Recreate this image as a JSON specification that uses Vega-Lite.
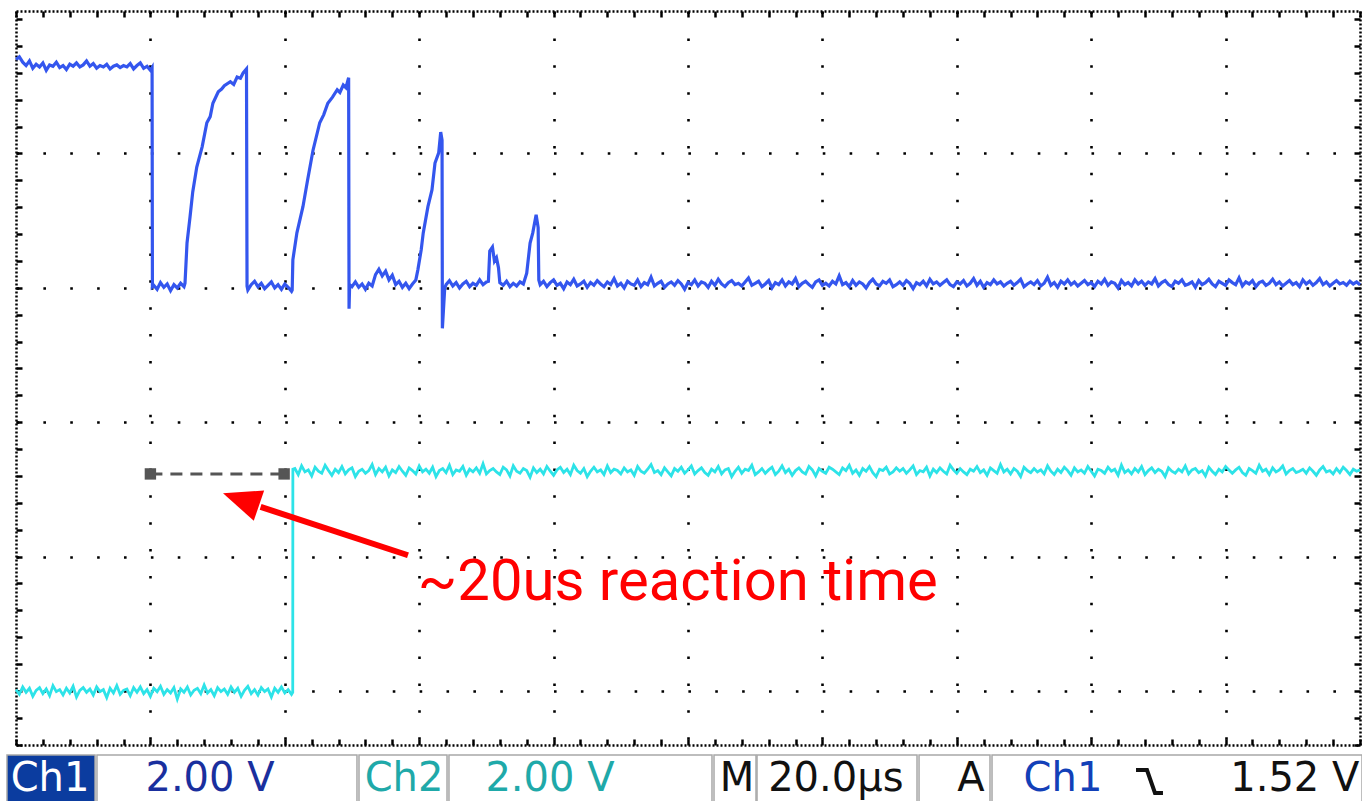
{
"$schema":"https://vega.github.io/schema/vega-lite/v6.json",
"width":1344,"height":734,
"autosize":{"type":"none"},
"padding":{"left":16,"top":11,"right":2,"bottom":56},
"background":"#ffffff",
"config":{"view":{"stroke":null}},
"resolve":{"scale":{"y":"independent"},"axis":{"x":"independent","y":"independent"}},
"datasets":{
"ch1":[
{"t":0,"v":3.40},{"t":0.5,"v":3.44},{"t":1,"v":3.36},{"t":1.5,"v":3.31},{"t":2,"v":3.38},{"t":2.5,"v":3.27},{"t":3,"v":3.33},{"t":3.5,"v":3.29},{"t":4,"v":3.35},{"t":4.5,"v":3.24},
{"t":5,"v":3.32},{"t":5.5,"v":3.30},{"t":6,"v":3.36},{"t":6.5,"v":3.28},{"t":7,"v":3.31},{"t":7.5,"v":3.25},{"t":8,"v":3.33},{"t":8.5,"v":3.30},{"t":9,"v":3.35},{"t":9.5,"v":3.29},
{"t":10,"v":3.32},{"t":10.5,"v":3.38},{"t":11,"v":3.30},{"t":11.5,"v":3.34},{"t":12,"v":3.27},{"t":12.5,"v":3.31},{"t":13,"v":3.29},{"t":13.5,"v":3.33},{"t":14,"v":3.26},{"t":14.5,"v":3.30},
{"t":15,"v":3.32},{"t":15.5,"v":3.28},{"t":16,"v":3.31},{"t":16.5,"v":3.29},{"t":17,"v":3.34},{"t":17.5,"v":3.26},{"t":18,"v":3.31},{"t":18.5,"v":3.35},{"t":19,"v":3.27},{"t":19.5,"v":3.30},
{"t":20,"v":3.24},{"t":20.25,"v":3.28},{"t":20.3,"v":0.02},
{"t":20.5,"v":0.04},{"t":21,"v":-0.02},{"t":21.5,"v":0.08},{"t":22,"v":0.01},{"t":22.5,"v":0.06},{"t":23,"v":-0.04},{"t":23.5,"v":0.05},{"t":24,"v":0.00},{"t":24.5,"v":0.07},{"t":25,"v":0.02},
{"t":25.15,"v":0.07},{"t":25.45,"v":0.67},{"t":25.9,"v":1.06},{"t":26.3,"v":1.43},{"t":26.9,"v":1.80},{"t":27.7,"v":2.10},{"t":28.4,"v":2.46},{"t":28.9,"v":2.55},{"t":29.3,"v":2.75},{"t":30.1,"v":2.92},{"t":30.6,"v":2.96},{"t":31,"v":3.01},{"t":31.9,"v":3.07},{"t":32.4,"v":3.03},{"t":32.9,"v":3.14},{"t":33.4,"v":3.12},{"t":33.8,"v":3.20},{"t":34.3,"v":3.26},{"t":34.38,"v":0.03},
{"t":34.5,"v":-0.03},{"t":35,"v":0.05},{"t":35.5,"v":0.10},{"t":36,"v":0.02},{"t":36.5,"v":0.07},{"t":37,"v":-0.01},{"t":37.5,"v":0.04},{"t":38,"v":0.09},{"t":38.5,"v":0.00},{"t":39,"v":0.05},{"t":39.5,"v":-0.02},{"t":40,"v":0.06},{"t":40.5,"v":0.01},{"t":41,"v":-0.05},
{"t":41.1,"v":-0.03},{"t":41.2,"v":0.42},{"t":41.8,"v":0.82},{"t":42.7,"v":1.21},{"t":43.4,"v":1.61},{"t":44.2,"v":2.05},{"t":45.2,"v":2.46},{"t":45.8,"v":2.58},{"t":46.4,"v":2.75},{"t":47.1,"v":2.84},{"t":47.8,"v":2.95},{"t":48.2,"v":2.91},{"t":48.7,"v":3.02},{"t":49.1,"v":2.98},{"t":49.5,"v":3.13},{"t":49.56,"v":-0.31},{"t":49.65,"v":0.05},
{"t":50,"v":0.02},{"t":50.5,"v":0.09},{"t":51,"v":0.01},{"t":51.5,"v":0.06},{"t":52,"v":-0.02},{"t":52.5,"v":0.07},{"t":53,"v":0.03},{"t":53.5,"v":0.20},{"t":54,"v":0.28},{"t":54.5,"v":0.18},{"t":55,"v":0.25},{"t":55.5,"v":0.12},{"t":56,"v":0.19},{"t":56.5,"v":0.05},{"t":57,"v":0.10},{"t":57.5,"v":0.01},{"t":58,"v":0.07},{"t":58.5,"v":-0.01},{"t":59,"v":0.06},
{"t":59.5,"v":0.12},{"t":59.8,"v":0.27},{"t":60.3,"v":0.57},{"t":60.6,"v":0.82},{"t":61.3,"v":1.21},{"t":61.9,"v":1.46},{"t":62.35,"v":1.86},{"t":62.9,"v":2.01},{"t":63.2,"v":2.32},{"t":63.4,"v":2.20},{"t":63.45,"v":-0.60},{"t":63.8,"v":0.00},
{"t":64,"v":0.05},{"t":64.5,"v":0.11},{"t":65,"v":0.03},{"t":65.5,"v":0.08},{"t":66,"v":0.00},{"t":66.5,"v":0.06},{"t":67,"v":0.10},{"t":67.5,"v":0.02},{"t":68,"v":0.07},{"t":68.5,"v":0.04},{"t":69,"v":0.12},{"t":69.5,"v":0.05},{"t":70,"v":0.09},{"t":70.3,"v":0.10},{"t":70.5,"v":0.55},{"t":70.9,"v":0.61},{"t":71.2,"v":0.40},{"t":71.5,"v":0.45},{"t":71.8,"v":0.30},{"t":72,"v":0.08},{"t":72.5,"v":0.04},{"t":73,"v":0.10},{"t":73.5,"v":0.02},{"t":74,"v":0.07},{"t":74.5,"v":0.03},{"t":75,"v":0.09},{"t":75.5,"v":0.06},{"t":76,"v":0.22},{"t":76.5,"v":0.67},{"t":76.9,"v":0.82},{"t":77.4,"v":1.09},{"t":77.7,"v":0.90},{"t":77.8,"v":0.12},
{"t":78,"v":0.05},{"t":78.5,"v":0.10},{"t":79,"v":0.02},{"t":79.5,"v":0.08},{"t":80,"v":0.12},{"t":80.5,"v":0.04},{"t":81,"v":0.07},{"t":81.5,"v":-0.01},{"t":82,"v":0.09},{"t":82.5,"v":0.05},{"t":83,"v":0.13},{"t":83.5,"v":0.03},{"t":84,"v":0.06},{"t":84.5,"v":0.10},{"t":85,"v":0.01},{"t":85.5,"v":0.08},{"t":86,"v":0.04},{"t":86.5,"v":0.11},{"t":87,"v":0.06},{"t":87.5,"v":0.02},
{"t":88,"v":0.09},{"t":88.5,"v":0.05},{"t":89,"v":0.14},{"t":89.5,"v":0.03},{"t":90,"v":0.07},{"t":90.5,"v":0.00},{"t":91,"v":0.10},{"t":91.5,"v":0.06},{"t":92,"v":0.04},{"t":92.5,"v":0.12},{"t":93,"v":0.02},{"t":93.5,"v":0.08},{"t":94,"v":0.05},{"t":94.5,"v":0.16},{"t":95,"v":0.03},{"t":95.5,"v":0.07},{"t":96,"v":0.10},{"t":96.5,"v":0.01},{"t":97,"v":0.06},{"t":97.5,"v":0.09},
{"t":98,"v":0.04},{"t":98.5,"v":0.11},{"t":99,"v":0.06},{"t":99.5,"v":-0.02},{"t":100,"v":0.08},{"t":100.5,"v":0.05},{"t":101,"v":0.12},{"t":101.5,"v":0.03},{"t":102,"v":0.09},{"t":102.5,"v":0.07},{"t":103,"v":0.01},{"t":103.5,"v":0.10},{"t":104,"v":0.04},{"t":104.5,"v":0.13},{"t":105,"v":0.06},{"t":105.5,"v":0.02},{"t":106,"v":0.08},{"t":106.5,"v":0.11},{"t":107,"v":0.05},{"t":107.5,"v":0.07},
{"t":108,"v":0.03},{"t":108.5,"v":0.09},{"t":109,"v":0.15},{"t":109.5,"v":0.04},{"t":110,"v":0.07},{"t":110.5,"v":0.10},{"t":111,"v":0.02},{"t":111.5,"v":0.06},{"t":112,"v":0.11},{"t":112.5,"v":0.00},{"t":113,"v":0.08},{"t":113.5,"v":0.05},{"t":114,"v":0.12},{"t":114.5,"v":0.03},{"t":115,"v":0.09},{"t":115.5,"v":0.06},{"t":116,"v":0.14},{"t":116.5,"v":0.02},{"t":117,"v":0.07},{"t":117.5,"v":0.10},
{"t":118,"v":0.05},{"t":118.5,"v":0.01},{"t":119,"v":0.09},{"t":119.5,"v":0.12},{"t":120,"v":0.04},{"t":120.5,"v":0.07},{"t":121,"v":0.03},{"t":121.5,"v":0.10},{"t":122,"v":0.06},{"t":122.5,"v":0.18},{"t":123,"v":0.05},{"t":123.5,"v":0.08},{"t":124,"v":0.02},{"t":124.5,"v":0.11},{"t":125,"v":0.04},{"t":125.5,"v":0.09},{"t":126,"v":0.06},{"t":126.5,"v":0.00},{"t":127,"v":0.08},{"t":127.5,"v":0.13},
{"t":128,"v":0.06},{"t":128.5,"v":0.03},{"t":129,"v":0.10},{"t":129.5,"v":0.07},{"t":130,"v":0.12},{"t":130.5,"v":0.02},{"t":131,"v":0.05},{"t":131.5,"v":0.09},{"t":132,"v":0.04},{"t":132.5,"v":0.11},{"t":133,"v":0.07},{"t":133.5,"v":-0.01},{"t":134,"v":0.08},{"t":134.5,"v":0.05},{"t":135,"v":0.10},{"t":135.5,"v":0.03},{"t":136,"v":0.13},{"t":136.5,"v":0.06},{"t":137,"v":0.09},{"t":137.5,"v":0.04},
{"t":138,"v":0.08},{"t":138.5,"v":0.12},{"t":139,"v":0.05},{"t":139.5,"v":0.02},{"t":140,"v":0.09},{"t":140.5,"v":0.06},{"t":141,"v":0.11},{"t":141.5,"v":0.03},{"t":142,"v":0.07},{"t":142.5,"v":0.14},{"t":143,"v":0.04},{"t":143.5,"v":0.10},{"t":144,"v":0.01},{"t":144.5,"v":0.08},{"t":145,"v":0.05},{"t":145.5,"v":0.12},{"t":146,"v":0.06},{"t":146.5,"v":0.09},{"t":147,"v":0.03},{"t":147.5,"v":0.07},
{"t":148,"v":0.10},{"t":148.5,"v":0.04},{"t":149,"v":0.08},{"t":149.5,"v":0.13},{"t":150,"v":0.02},{"t":150.5,"v":0.06},{"t":151,"v":0.09},{"t":151.5,"v":0.05},{"t":152,"v":0.11},{"t":152.5,"v":0.03},{"t":153,"v":0.07},{"t":153.5,"v":0.16},{"t":154,"v":0.04},{"t":154.5,"v":0.08},{"t":155,"v":0.01},{"t":155.5,"v":0.10},{"t":156,"v":0.06},{"t":156.5,"v":0.12},{"t":157,"v":0.05},{"t":157.5,"v":0.09},
{"t":158,"v":0.03},{"t":158.5,"v":0.07},{"t":159,"v":0.11},{"t":159.5,"v":0.05},{"t":160,"v":0.08},{"t":160.5,"v":0.02},{"t":161,"v":0.10},{"t":161.5,"v":0.06},{"t":162,"v":0.13},{"t":162.5,"v":0.04},{"t":163,"v":0.09},{"t":163.5,"v":0.07},{"t":164,"v":0.00},{"t":164.5,"v":0.11},{"t":165,"v":0.05},{"t":165.5,"v":0.08},{"t":166,"v":0.03},{"t":166.5,"v":0.12},{"t":167,"v":0.06},{"t":167.5,"v":0.10},
{"t":168,"v":0.04},{"t":168.5,"v":0.09},{"t":169,"v":0.06},{"t":169.5,"v":0.14},{"t":170,"v":0.03},{"t":170.5,"v":0.08},{"t":171,"v":0.11},{"t":171.5,"v":0.05},{"t":172,"v":0.02},{"t":172.5,"v":0.10},{"t":173,"v":0.07},{"t":173.5,"v":0.12},{"t":174,"v":0.04},{"t":174.5,"v":0.06},{"t":175,"v":0.09},{"t":175.5,"v":0.01},{"t":176,"v":0.11},{"t":176.5,"v":0.05},{"t":177,"v":0.08},{"t":177.5,"v":0.13},
{"t":178,"v":0.06},{"t":178.5,"v":0.02},{"t":179,"v":0.10},{"t":179.5,"v":0.07},{"t":180,"v":0.04},{"t":180.5,"v":0.12},{"t":181,"v":0.08},{"t":181.5,"v":0.05},{"t":182,"v":0.15},{"t":182.5,"v":0.03},{"t":183,"v":0.09},{"t":183.5,"v":0.06},{"t":184,"v":0.11},{"t":184.5,"v":0.02},{"t":185,"v":0.08},{"t":185.5,"v":0.10},{"t":186,"v":0.04},{"t":186.5,"v":0.07},{"t":187,"v":0.13},{"t":187.5,"v":0.05},
{"t":188,"v":0.09},{"t":188.5,"v":0.03},{"t":189,"v":0.07},{"t":189.5,"v":0.11},{"t":190,"v":0.05},{"t":190.5,"v":0.08},{"t":191,"v":0.02},{"t":191.5,"v":0.12},{"t":192,"v":0.06},{"t":192.5,"v":0.10},{"t":193,"v":0.04},{"t":193.5,"v":0.08},{"t":194,"v":0.14},{"t":194.5,"v":0.05},{"t":195,"v":0.09},{"t":195.5,"v":0.03},{"t":196,"v":0.07},{"t":196.5,"v":0.11},{"t":197,"v":0.06},{"t":197.5,"v":0.08},
{"t":198,"v":0.04},{"t":198.5,"v":0.10},{"t":199,"v":0.06},{"t":199.5,"v":0.09},{"t":200,"v":0.05}
],
"ch2":[
{"t":0,"v":0.02},{"t":0.5,"v":-0.05},{"t":1,"v":0.06},{"t":1.5,"v":-0.02},{"t":2,"v":0.04},{"t":2.5,"v":-0.08},{"t":3,"v":0.01},{"t":3.5,"v":0.05},{"t":4,"v":-0.04},{"t":4.5,"v":0.03},{"t":5,"v":-0.07},{"t":5.5,"v":0.08},{"t":6,"v":-0.01},{"t":6.5,"v":0.02},{"t":7,"v":-0.06},{"t":7.5,"v":0.04},{"t":8,"v":-0.03},{"t":8.5,"v":0.07},{"t":9,"v":-0.09},{"t":9.5,"v":0.01},
{"t":10,"v":0.05},{"t":10.5,"v":-0.02},{"t":11,"v":0.03},{"t":11.5,"v":-0.06},{"t":12,"v":0.06},{"t":12.5,"v":-0.01},{"t":13,"v":0.02},{"t":13.5,"v":-0.10},{"t":14,"v":0.04},{"t":14.5,"v":-0.03},{"t":15,"v":0.08},{"t":15.5,"v":-0.05},{"t":16,"v":0.01},{"t":16.5,"v":0.03},{"t":17,"v":-0.07},{"t":17.5,"v":0.05},{"t":18,"v":-0.02},{"t":18.5,"v":0.06},{"t":19,"v":-0.04},{"t":19.5,"v":0.02},
{"t":20,"v":-0.08},{"t":20.5,"v":0.04},{"t":21,"v":-0.01},{"t":21.5,"v":0.07},{"t":22,"v":-0.05},{"t":22.5,"v":0.02},{"t":23,"v":-0.03},{"t":23.5,"v":0.05},{"t":24,"v":-0.12},{"t":24.5,"v":0.03},{"t":25,"v":-0.02},{"t":25.5,"v":0.06},{"t":26,"v":-0.06},{"t":26.5,"v":0.01},{"t":27,"v":0.04},{"t":27.5,"v":-0.04},{"t":28,"v":0.09},{"t":28.5,"v":-0.03},{"t":29,"v":0.02},{"t":29.5,"v":-0.07},
{"t":30,"v":0.05},{"t":30.5,"v":-0.01},{"t":31,"v":0.03},{"t":31.5,"v":-0.05},{"t":32,"v":0.06},{"t":32.5,"v":-0.02},{"t":33,"v":0.04},{"t":33.5,"v":-0.08},{"t":34,"v":0.01},{"t":34.5,"v":0.07},{"t":35,"v":-0.04},{"t":35.5,"v":0.02},{"t":36,"v":-0.06},{"t":36.5,"v":0.05},{"t":37,"v":-0.01},{"t":37.5,"v":0.03},{"t":38,"v":-0.09},{"t":38.5,"v":0.04},{"t":39,"v":-0.02},{"t":39.5,"v":0.06},
{"t":40,"v":-0.03},{"t":40.5,"v":0.02},{"t":41,"v":-0.05},{"t":41.18,"v":-0.02},{"t":41.2,"v":3.30},
{"t":41.5,"v":3.31},{"t":42,"v":3.22},{"t":42.5,"v":3.35},{"t":43,"v":3.26},{"t":43.5,"v":3.29},{"t":44,"v":3.20},{"t":44.5,"v":3.33},{"t":45,"v":3.27},{"t":45.5,"v":3.24},{"t":46,"v":3.36},{"t":46.5,"v":3.28},{"t":47,"v":3.21},{"t":47.5,"v":3.30},{"t":48,"v":3.25},{"t":48.5,"v":3.34},{"t":49,"v":3.23},{"t":49.5,"v":3.29},{"t":50,"v":3.32},{"t":50.5,"v":3.19},{"t":51,"v":3.27},
{"t":51.5,"v":3.30},{"t":52,"v":3.24},{"t":52.5,"v":3.28},{"t":53,"v":3.37},{"t":53.5,"v":3.22},{"t":54,"v":3.31},{"t":54.5,"v":3.26},{"t":55,"v":3.33},{"t":55.5,"v":3.20},{"t":56,"v":3.29},{"t":56.5,"v":3.25},{"t":57,"v":3.34},{"t":57.5,"v":3.27},{"t":58,"v":3.21},{"t":58.5,"v":3.32},{"t":59,"v":3.28},{"t":59.5,"v":3.23},{"t":60,"v":3.35},{"t":60.5,"v":3.26},{"t":61,"v":3.30},
{"t":61.5,"v":3.24},{"t":62,"v":3.33},{"t":62.5,"v":3.19},{"t":63,"v":3.28},{"t":63.5,"v":3.31},{"t":64,"v":3.25},{"t":64.5,"v":3.36},{"t":65,"v":3.22},{"t":65.5,"v":3.29},{"t":66,"v":3.27},{"t":66.5,"v":3.34},{"t":67,"v":3.21},{"t":67.5,"v":3.30},{"t":68,"v":3.26},{"t":68.5,"v":3.32},{"t":69,"v":3.24},{"t":69.5,"v":3.38},{"t":70,"v":3.23},{"t":70.5,"v":3.28},{"t":71,"v":3.31},
{"t":71.5,"v":3.26},{"t":72,"v":3.22},{"t":72.5,"v":3.33},{"t":73,"v":3.29},{"t":73.5,"v":3.20},{"t":74,"v":3.35},{"t":74.5,"v":3.27},{"t":75,"v":3.24},{"t":75.5,"v":3.31},{"t":76,"v":3.28},{"t":76.5,"v":3.18},{"t":77,"v":3.32},{"t":77.5,"v":3.25},{"t":78,"v":3.30},{"t":78.5,"v":3.23},{"t":79,"v":3.34},{"t":79.5,"v":3.27},{"t":80,"v":3.21},{"t":80.5,"v":3.29},{"t":81,"v":3.33},
{"t":81.5,"v":3.25},{"t":82,"v":3.30},{"t":82.5,"v":3.22},{"t":83,"v":3.36},{"t":83.5,"v":3.28},{"t":84,"v":3.24},{"t":84.5,"v":3.31},{"t":85,"v":3.19},{"t":85.5,"v":3.27},{"t":86,"v":3.33},{"t":86.5,"v":3.26},{"t":87,"v":3.29},{"t":87.5,"v":3.22},{"t":88,"v":3.35},{"t":88.5,"v":3.25},{"t":89,"v":3.30},{"t":89.5,"v":3.28},{"t":90,"v":3.23},{"t":90.5,"v":3.32},{"t":91,"v":3.26},
{"t":91.5,"v":3.29},{"t":92,"v":3.21},{"t":92.5,"v":3.34},{"t":93,"v":3.27},{"t":93.5,"v":3.24},{"t":94,"v":3.30},{"t":94.5,"v":3.37},{"t":95,"v":3.25},{"t":95.5,"v":3.28},{"t":96,"v":3.22},{"t":96.5,"v":3.32},{"t":97,"v":3.26},{"t":97.5,"v":3.20},{"t":98,"v":3.31},{"t":98.5,"v":3.27},{"t":99,"v":3.33},{"t":99.5,"v":3.24},{"t":100,"v":3.29},{"t":100.5,"v":3.35},{"t":101,"v":3.23},
{"t":101.5,"v":3.28},{"t":102,"v":3.32},{"t":102.5,"v":3.25},{"t":103,"v":3.21},{"t":103.5,"v":3.30},{"t":104,"v":3.26},{"t":104.5,"v":3.34},{"t":105,"v":3.23},{"t":105.5,"v":3.29},{"t":106,"v":3.31},{"t":106.5,"v":3.19},{"t":107,"v":3.27},{"t":107.5,"v":3.33},{"t":108,"v":3.24},{"t":108.5,"v":3.30},{"t":109,"v":3.28},{"t":109.5,"v":3.36},{"t":110,"v":3.22},{"t":110.5,"v":3.26},{"t":111,"v":3.31},
{"t":111.5,"v":3.24},{"t":112,"v":3.29},{"t":112.5,"v":3.33},{"t":113,"v":3.22},{"t":113.5,"v":3.27},{"t":114,"v":3.35},{"t":114.5,"v":3.25},{"t":115,"v":3.30},{"t":115.5,"v":3.21},{"t":116,"v":3.28},{"t":116.5,"v":3.32},{"t":117,"v":3.26},{"t":117.5,"v":3.23},{"t":118,"v":3.34},{"t":118.5,"v":3.29},{"t":119,"v":3.20},{"t":119.5,"v":3.31},{"t":120,"v":3.27},{"t":120.5,"v":3.24},{"t":121,"v":3.33},
{"t":121.5,"v":3.30},{"t":122,"v":3.26},{"t":122.5,"v":3.22},{"t":123,"v":3.32},{"t":123.5,"v":3.28},{"t":124,"v":3.36},{"t":124.5,"v":3.24},{"t":125,"v":3.29},{"t":125.5,"v":3.21},{"t":126,"v":3.31},{"t":126.5,"v":3.27},{"t":127,"v":3.34},{"t":127.5,"v":3.25},{"t":128,"v":3.19},{"t":128.5,"v":3.30},{"t":129,"v":3.28},{"t":129.5,"v":3.33},{"t":130,"v":3.23},{"t":130.5,"v":3.26},{"t":131,"v":3.32},
{"t":131.5,"v":3.27},{"t":132,"v":3.31},{"t":132.5,"v":3.24},{"t":133,"v":3.29},{"t":133.5,"v":3.35},{"t":134,"v":3.22},{"t":134.5,"v":3.28},{"t":135,"v":3.26},{"t":135.5,"v":3.33},{"t":136,"v":3.20},{"t":136.5,"v":3.30},{"t":137,"v":3.25},{"t":137.5,"v":3.32},{"t":138,"v":3.27},{"t":138.5,"v":3.23},{"t":139,"v":3.36},{"t":139.5,"v":3.29},{"t":140,"v":3.24},{"t":140.5,"v":3.31},{"t":141,"v":3.26},
{"t":141.5,"v":3.22},{"t":142,"v":3.30},{"t":142.5,"v":3.27},{"t":143,"v":3.34},{"t":143.5,"v":3.25},{"t":144,"v":3.29},{"t":144.5,"v":3.21},{"t":145,"v":3.32},{"t":145.5,"v":3.28},{"t":146,"v":3.24},{"t":146.5,"v":3.37},{"t":147,"v":3.26},{"t":147.5,"v":3.30},{"t":148,"v":3.23},{"t":148.5,"v":3.31},{"t":149,"v":3.27},{"t":149.5,"v":3.19},{"t":150,"v":3.33},{"t":150.5,"v":3.28},{"t":151,"v":3.25},
{"t":151.5,"v":3.31},{"t":152,"v":3.26},{"t":152.5,"v":3.29},{"t":153,"v":3.23},{"t":153.5,"v":3.35},{"t":154,"v":3.27},{"t":154.5,"v":3.22},{"t":155,"v":3.30},{"t":155.5,"v":3.25},{"t":156,"v":3.33},{"t":156.5,"v":3.28},{"t":157,"v":3.21},{"t":157.5,"v":3.32},{"t":158,"v":3.26},{"t":158.5,"v":3.29},{"t":159,"v":3.24},{"t":159.5,"v":3.34},{"t":160,"v":3.27},{"t":160.5,"v":3.20},{"t":161,"v":3.30},
{"t":161.5,"v":3.28},{"t":162,"v":3.24},{"t":162.5,"v":3.33},{"t":163,"v":3.27},{"t":163.5,"v":3.30},{"t":164,"v":3.21},{"t":164.5,"v":3.36},{"t":165,"v":3.25},{"t":165.5,"v":3.29},{"t":166,"v":3.23},{"t":166.5,"v":3.31},{"t":167,"v":3.26},{"t":167.5,"v":3.34},{"t":168,"v":3.22},{"t":168.5,"v":3.28},{"t":169,"v":3.32},{"t":169.5,"v":3.25},{"t":170,"v":3.30},{"t":170.5,"v":3.27},{"t":171,"v":3.19},
{"t":171.5,"v":3.32},{"t":172,"v":3.27},{"t":172.5,"v":3.24},{"t":173,"v":3.30},{"t":173.5,"v":3.26},{"t":174,"v":3.35},{"t":174.5,"v":3.23},{"t":175,"v":3.29},{"t":175.5,"v":3.31},{"t":176,"v":3.25},{"t":176.5,"v":3.28},{"t":177,"v":3.20},{"t":177.5,"v":3.33},{"t":178,"v":3.27},{"t":178.5,"v":3.22},{"t":179,"v":3.30},{"t":179.5,"v":3.26},{"t":180,"v":3.34},{"t":180.5,"v":3.29},{"t":181,"v":3.24},
{"t":181.5,"v":3.29},{"t":182,"v":3.33},{"t":182.5,"v":3.25},{"t":183,"v":3.21},{"t":183.5,"v":3.31},{"t":184,"v":3.28},{"t":184.5,"v":3.24},{"t":185,"v":3.36},{"t":185.5,"v":3.27},{"t":186,"v":3.30},{"t":186.5,"v":3.22},{"t":187,"v":3.32},{"t":187.5,"v":3.26},{"t":188,"v":3.29},{"t":188.5,"v":3.35},{"t":189,"v":3.23},{"t":189.5,"v":3.28},{"t":190,"v":3.31},{"t":190.5,"v":3.25},{"t":191,"v":3.27},
{"t":191.5,"v":3.30},{"t":192,"v":3.24},{"t":192.5,"v":3.32},{"t":193,"v":3.27},{"t":193.5,"v":3.21},{"t":194,"v":3.29},{"t":194.5,"v":3.34},{"t":195,"v":3.26},{"t":195.5,"v":3.28},{"t":196,"v":3.23},{"t":196.5,"v":3.31},{"t":197,"v":3.25},{"t":197.5,"v":3.33},{"t":198,"v":3.28},{"t":198.5,"v":3.22},{"t":199,"v":3.30},{"t":199.5,"v":3.27},{"t":200,"v":3.29}
],
"boxes":[
{"t1":-1.34,"t2":11.76,"kind":"ch1"},
{"t1":12.05,"t2":50.74,"kind":"box"},
{"t1":51.04,"t2":64.14,"kind":"box"},
{"t1":64.43,"t2":103.57,"kind":"box"},
{"t1":103.87,"t2":110.12,"kind":"box"},
{"t1":110.27,"t2":134.08,"kind":"box"},
{"t1":134.38,"t2":144.94,"kind":"box"},
{"t1":145.24,"t2":200.3,"kind":"box"}
],
"status":[
{"t":5.06,"label":"Ch1","role":"inv"},
{"t":28.87,"label":"2.00 V","role":"ch1"},
{"t":57.74,"label":"Ch2","role":"ch2"},
{"t":79.46,"label":"2.00 V","role":"ch2"},
{"t":107.3,"label":"M","role":"plain"},
{"t":122.0,"label":"20.0µs","role":"plain"},
{"t":142.1,"label":"A","role":"plain"},
{"t":155.8,"label":"Ch1","role":"trig"},
{"t":190.3,"label":"1.52 V","role":"plain"}
],
"edge":[
{"t":166.67,"d":-0.588,"o":0},{"t":168.3,"d":-0.588,"o":1},{"t":169.49,"d":-0.759,"o":2},{"t":170.68,"d":-0.759,"o":3}
]
},
"layer":[
{"mark":{"type":"rule","color":"#c8c8c8","strokeWidth":4},
 "encoding":{"x":{"datum":-1.2,"type":"quantitative","scale":{"domain":[0,200],"nice":false,"zero":false},"axis":null},"x2":{"datum":200.3},
  "y":{"datum":5.09,"type":"quantitative","scale":{"domain":[-0.402,5.06],"nice":false,"zero":false},"axis":null}}},
{"mark":{"type":"rule","color":"#c8c8c8","strokeWidth":4},
 "encoding":{"x":{"datum":-0.6,"type":"quantitative","scale":{"domain":[0,200],"nice":false,"zero":false},"axis":null},
  "y":{"datum":-0.45,"type":"quantitative","scale":{"domain":[-0.402,5.06],"nice":false,"zero":false},"axis":null},"y2":{"datum":5.105}}},
{"mark":{"type":"rule","color":"#c8c8c8","strokeWidth":7},
 "encoding":{"x":{"datum":-1.2,"type":"quantitative","scale":{"domain":[0,200],"nice":false,"zero":false},"axis":null},"x2":{"datum":200.3},
  "y":{"datum":-0.435,"type":"quantitative","scale":{"domain":[-0.402,5.06],"nice":false,"zero":false},"axis":null}}},
{"data":{"values":[{"t":0,"d":0}]},
 "mark":{"type":"point","opacity":0},
 "encoding":{
  "x":{"field":"t","type":"quantitative","scale":{"domain":[0,200],"nice":false,"zero":false},
   "axis":{"orient":"bottom","values":[20,40,60,80,100,120,140,160,180],"grid":true,"gridColor":"#000000","gridOpacity":1,"gridWidth":2.6,"gridDash":[2.6,24.275],"domain":false,"ticks":false,"labels":false,"title":null}},
  "y":{"field":"d","type":"quantitative","scale":{"domain":[-0.402,5.06],"nice":false,"zero":false},
   "axis":{"orient":"left","values":[0,1,2,3,4],"grid":true,"gridColor":"#000000","gridOpacity":1,"gridWidth":2.6,"gridDash":[2.6,24.275],"domain":false,"ticks":false,"labels":false,"title":null}}}},
{"data":{"values":[{"t":0,"d":0}]},
 "mark":{"type":"point","opacity":0},
 "encoding":{
  "x":{"field":"t","type":"quantitative","scale":{"domain":[0,200],"nice":false,"zero":false},
   "axis":{"orient":"top","values":[0,4,8,12,16,20,24,28,32,36,40,44,48,52,56,60,64,68,72,76,80,84,88,92,96,100,104,108,112,116,120,124,128,132,136,140,144,148,152,156,160,164,168,172,176,180,184,188,192,196,200],
    "grid":false,"domain":true,"domainColor":"#000000","domainWidth":2.5,"domainDash":[2,2],"ticks":true,"tickSize":-6,"tickWidth":2.5,"tickColor":"#000000","labels":false,"title":null}},
  "y":{"field":"d","type":"quantitative","scale":{"domain":[-0.402,5.06],"nice":false,"zero":false},
   "axis":{"orient":"left","values":[-0.4,-0.2,0,0.2,0.4,0.6,0.8,1,1.2,1.4,1.6,1.8,2,2.2,2.4,2.6,2.8,3,3.2,3.4,3.6,3.8,4,4.2,4.4,4.6,4.8,5],
    "grid":false,"domain":true,"domainColor":"#000000","domainWidth":2.5,"domainDash":[2,2],"ticks":true,"tickSize":-6,"tickWidth":2.5,"tickColor":"#000000","labels":false,"title":null}}}},
{"data":{"values":[{"t":0,"d":0}]},
 "mark":{"type":"point","opacity":0},
 "encoding":{
  "x":{"field":"t","type":"quantitative","scale":{"domain":[0,200],"nice":false,"zero":false},
   "axis":{"orient":"bottom","values":[0,4,8,12,16,20,24,28,32,36,40,44,48,52,56,60,64,68,72,76,80,84,88,92,96,100,104,108,112,116,120,124,128,132,136,140,144,148,152,156,160,164,168,172,176,180,184,188,192,196,200],
    "grid":false,"domain":true,"domainColor":"#000000","domainWidth":2.5,"domainDash":[2,2],"ticks":true,"tickSize":-6,"tickWidth":2.5,"tickColor":"#000000","labels":false,"title":null}},
  "y":{"field":"d","type":"quantitative","scale":{"domain":[-0.402,5.06],"nice":false,"zero":false},
   "axis":{"orient":"right","values":[-0.4,-0.2,0,0.2,0.4,0.6,0.8,1,1.2,1.4,1.6,1.8,2,2.2,2.4,2.6,2.8,3,3.2,3.4,3.6,3.8,4,4.2,4.4,4.6,4.8,5],
    "grid":false,"domain":true,"domainColor":"#000000","domainWidth":2.5,"domainDash":[2,2],"ticks":true,"tickSize":-6,"tickWidth":2.5,"tickColor":"#000000","labels":false,"title":null}}}},
{"data":{"name":"ch1"},
 "mark":{"type":"line","color":"#3456ee","strokeWidth":3.2,"strokeJoin":"miter"},
 "encoding":{"x":{"field":"t","type":"quantitative","scale":{"domain":[0,200],"nice":false,"zero":false},"axis":null},
  "y":{"field":"v","type":"quantitative","scale":{"domain":[-6.801,4.122],"nice":false,"zero":false},"axis":null}}},
{"data":{"name":"ch2"},
 "mark":{"type":"line","color":"#2de3e8","strokeWidth":2.8,"strokeJoin":"miter"},
 "encoding":{"x":{"field":"t","type":"quantitative","scale":{"domain":[0,200],"nice":false,"zero":false},"axis":null},
  "y":{"field":"v","type":"quantitative","scale":{"domain":[-0.804,10.119],"nice":false,"zero":false},"axis":null}}},
{"mark":{"type":"point","shape":"triangle-right","size":170,"filled":true,"color":"#2d4fe0","stroke":"#0a2a9a","strokeWidth":1,"opacity":1},
 "encoding":{"x":{"datum":-1.55,"type":"quantitative","scale":{"domain":[0,200],"nice":false,"zero":false},"axis":null},
  "y":{"datum":0,"type":"quantitative","scale":{"domain":[-6.801,4.122],"nice":false,"zero":false},"axis":null}}},
{"mark":{"type":"point","shape":"triangle-right","size":170,"filled":false,"stroke":"#2ab0b4","strokeWidth":1.5,"opacity":1},
 "encoding":{"x":{"datum":-1.55,"type":"quantitative","scale":{"domain":[0,200],"nice":false,"zero":false},"axis":null},
  "y":{"datum":0,"type":"quantitative","scale":{"domain":[-0.804,10.119],"nice":false,"zero":false},"axis":null}}},
{"mark":{"type":"point","shape":"M-1,0L0.4,-1L0.4,1Z","size":500,"filled":true,"color":"#0a2f9a","opacity":1},
 "encoding":{"x":{"datum":197.2,"type":"quantitative","scale":{"domain":[0,200],"nice":false,"zero":false},"axis":null},
  "y":{"datum":1.52,"type":"quantitative","scale":{"domain":[-6.801,4.122],"nice":false,"zero":false},"axis":null}}},
{"mark":{"type":"rule","color":"#0a2f9a","strokeWidth":2},
 "encoding":{"x":{"datum":197.8,"type":"quantitative","scale":{"domain":[0,200],"nice":false,"zero":false},"axis":null},"x2":{"datum":200.3},
  "y":{"datum":1.52,"type":"quantitative","scale":{"domain":[-6.801,4.122],"nice":false,"zero":false},"axis":null}}},
{"data":{"values":[{"t1":20,"t2":39.9,"v":3.23}]},
 "mark":{"type":"rule","color":"#555555","strokeWidth":3,"strokeDash":[12,8]},
 "encoding":{"x":{"field":"t1","type":"quantitative","scale":{"domain":[0,200],"nice":false,"zero":false},"axis":null},"x2":{"field":"t2"},
  "y":{"field":"v","type":"quantitative","scale":{"domain":[-0.804,10.119],"nice":false,"zero":false},"axis":null}}},
{"data":{"values":[{"t":20,"v":3.23},{"t":39.9,"v":3.23}]},
 "mark":{"type":"point","shape":"square","size":130,"filled":true,"color":"#555555","opacity":1},
 "encoding":{"x":{"field":"t","type":"quantitative","scale":{"domain":[0,200],"nice":false,"zero":false},"axis":null},
  "y":{"field":"v","type":"quantitative","scale":{"domain":[-0.804,10.119],"nice":false,"zero":false},"axis":null}}},
{"data":{"values":[{"t1":58.33,"v1":2.02,"t2":36.4,"v2":2.74}]},
 "mark":{"type":"rule","color":"#ff0000","strokeWidth":6},
 "encoding":{"x":{"field":"t1","type":"quantitative","scale":{"domain":[0,200],"nice":false,"zero":false},"axis":null},"x2":{"field":"t2"},
  "y":{"field":"v1","type":"quantitative","scale":{"domain":[-0.804,10.119],"nice":false,"zero":false},"axis":null},"y2":{"field":"v2"}}},
{"data":{"values":[{"t":33.48,"v":2.85}]},
 "mark":{"type":"point","shape":"M-1,0L1,-0.84L1,0.84Z","size":1444,"angle":19,"filled":true,"color":"#ff0000","opacity":1},
 "encoding":{"x":{"field":"t","type":"quantitative","scale":{"domain":[0,200],"nice":false,"zero":false},"axis":null},
  "y":{"field":"v","type":"quantitative","scale":{"domain":[-0.804,10.119],"nice":false,"zero":false},"axis":null}}},
{"data":{"values":[{"t":59.8,"v":1.354,"label":"~20us reaction time"}]},
 "mark":{"type":"text","font":"Roboto","fontSize":58,"color":"#ff0000","align":"left","baseline":"alphabetic"},
 "encoding":{"x":{"field":"t","type":"quantitative","scale":{"domain":[0,200],"nice":false,"zero":false},"axis":null},
  "y":{"field":"v","type":"quantitative","scale":{"domain":[-0.804,10.119],"nice":false,"zero":false},"axis":null},
  "text":{"field":"label"}}},
{"data":{"name":"boxes"},
 "mark":{"type":"rect","stroke":"#a8a8a8","strokeWidth":1.5},
 "encoding":{"x":{"field":"t1","type":"quantitative","scale":{"domain":[0,200],"nice":false,"zero":false},"axis":null},"x2":{"field":"t2"},
  "y":{"datum":-0.476,"type":"quantitative","scale":{"domain":[-0.402,5.06],"nice":false,"zero":false},"axis":null},"y2":{"datum":-0.83},
  "fill":{"field":"kind","type":"nominal","scale":{"domain":["ch1","box"],"range":["#0b3c9f","#ffffff"]},"legend":null}}},
{"data":{"name":"status"},
 "mark":{"type":"text","font":"DejaVu Sans","fontSize":40,"align":"center","baseline":"middle"},
 "encoding":{"x":{"field":"t","type":"quantitative","scale":{"domain":[0,200],"nice":false,"zero":false},"axis":null},
  "y":{"datum":-0.655,"type":"quantitative","scale":{"domain":[-0.402,5.06],"nice":false,"zero":false},"axis":null},
  "text":{"field":"label"},
  "color":{"field":"role","type":"nominal","scale":{"domain":["inv","ch1","ch2","plain","trig"],"range":["#ffffff","#1a2f9e","#1fa9a9","#111111","#1240b8"]},"legend":null}}},
{"data":{"name":"edge"},
 "mark":{"type":"line","color":"#111111","strokeWidth":4},
 "encoding":{"x":{"field":"t","type":"quantitative","scale":{"domain":[0,200],"nice":false,"zero":false},"axis":null},
  "y":{"field":"d","type":"quantitative","scale":{"domain":[-0.402,5.06],"nice":false,"zero":false},"axis":null},
  "order":{"field":"o","type":"quantitative"}}}
]
}
